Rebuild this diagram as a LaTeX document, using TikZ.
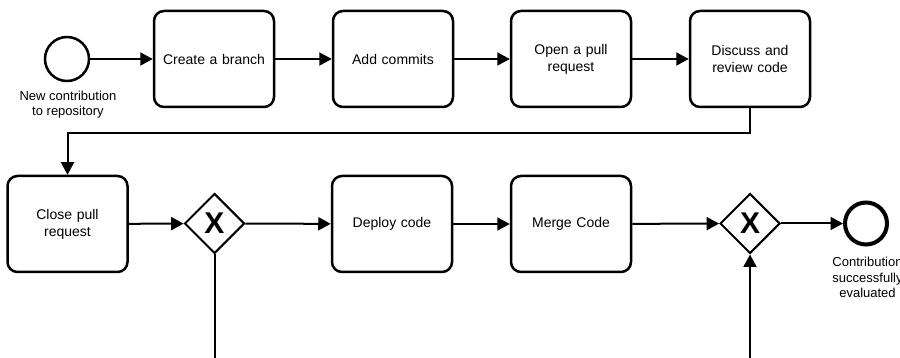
\documentclass[tikz,border=0pt]{standalone}
\usepackage{fontspec}
\setmainfont{Liberation Sans}
\usetikzlibrary{shapes.geometric,arrows.meta}
\begin{document}
\begin{tikzpicture}[x=1pt,y=-1pt,
  task/.style={draw, line width=2.5pt, rounded corners=10pt, minimum width=120pt,
    minimum height=96pt, inner sep=0pt, text width=112pt, align=center,
    font=\fontsize{14}{17}\selectfont},
  gateway/.style={draw, diamond, line width=2pt, minimum size=60pt, inner sep=0pt,
    font=\fontsize{30}{30}\selectfont\bfseries},
  startev/.style={draw, circle, line width=2.5pt, minimum size=44pt, inner sep=0pt},
  endev/.style={draw, circle, line width=4pt, minimum size=42pt, inner sep=0pt},
  evlabel/.style={align=center, inner sep=0pt, font=\fontsize{13}{15.5}\selectfont},
  flow/.style={draw, line width=2pt, -{Triangle[length=12.5pt,width=13pt]}},
  plain/.style={draw, line width=2pt}
]
\useasboundingbox (0,0) rectangle (900,358);

% top row
\node[startev] (start) at (67,59) {};
\node[evlabel] (startlbl) at (68,104.5) {New contribution\\to repository};
\node[task] (branch) at (214,59) {Create a branch};
\node[task] (commits) at (393,59) {Add commits};
\node[task] (openpr) at (571,59) {Open a pull\\request};
\node[task] (review) at (750,59) {Discuss and\\review code};

% bottom row
\node[task] (closepr) at (67.5,224) {Close pull\\request};
\node[gateway] (gw1) at (214.5,223.5) {X};
\node[task] (deploy) at (392,224) {Deploy code};
\node[task] (merge) at (571,224) {Merge Code};
\node[gateway] (gw2) at (750,223.5) {X};
\node[endev] (finish) at (866,223.5) {};
\node[evlabel] (endlbl) at (867.5,277.5) {Contribution\\successfully\\evaluated};

% free ends of the branches leaving the picture
\coordinate (gw1out) at (214.5,358);
\coordinate (gw2in) at (750,358);
\coordinate (turnR) at (750,133);
\coordinate (turnL) at (67.5,133);

% sequence flows
\path[flow] (start) -- (branch);
\path[flow] (branch) -- (commits);
\path[flow] (commits) -- (openpr);
\path[flow] (openpr) -- (review);
\path[flow] (review.south) -- (turnR) -- (turnL) -- (closepr.north);
\path[flow] (closepr) -- (gw1);
\path[flow] (gw1) -- (deploy);
\path[flow] (deploy) -- (merge);
\path[flow] (merge) -- (gw2);
\path[flow] (gw2) -- (finish);
\path[plain] (gw1.south) -- (gw1out);
\path[flow] (gw2in) -- (gw2.south);
\end{tikzpicture}
\end{document}
